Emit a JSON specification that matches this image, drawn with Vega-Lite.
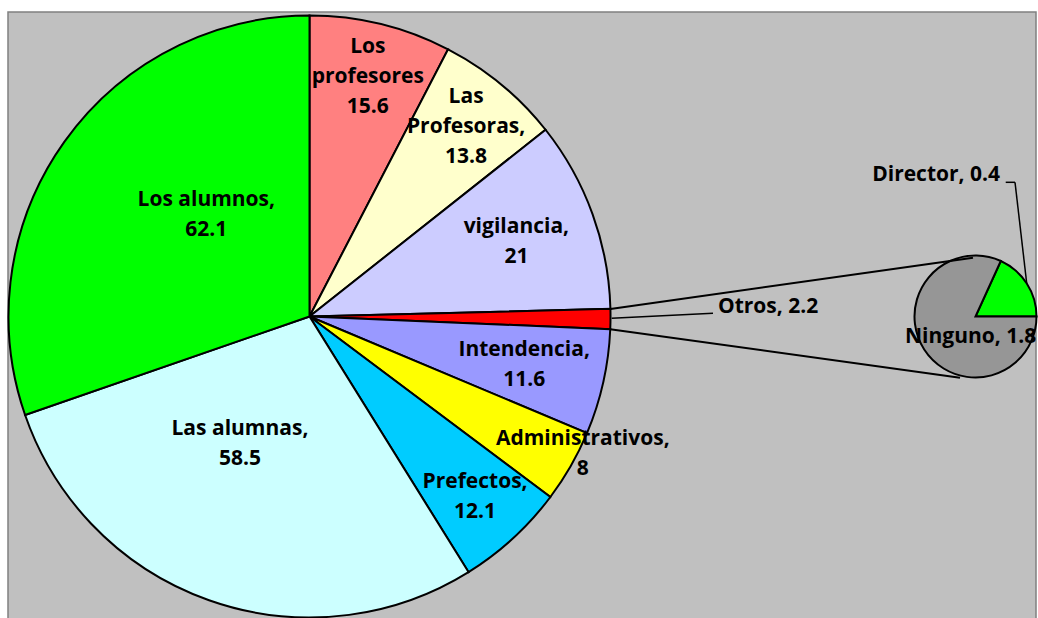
{
  "$schema": "https://vega.github.io/schema/vega-lite/v6.json",
  "width": 1028,
  "height": 610,
  "autosize": {"type": "none"},
  "padding": {"left": 8, "top": 12, "right": 2, "bottom": 0},
  "background": "white",
  "config": {
    "view": {"fill": "#C0C0C0", "stroke": "#808080", "strokeWidth": 1.5},
    "text": {"font": "Open Sans", "fontWeight": "bold", "fontSize": 21, "lineHeight": 30, "lineBreak": "\n", "color": "black"}
  },
  "datasets": {
    "main": [
      {"name": "Los profesores", "label": "Los\nprofesores\n15.6", "value": 15.6},
      {"name": "Las Profesoras", "label": "Las\nProfesoras,\n13.8", "value": 13.8},
      {"name": "vigilancia", "label": "vigilancia,\n21", "value": 21},
      {"name": "Otros", "label": "Otros, 2.2", "value": 2.2},
      {"name": "Intendencia", "label": "Intendencia,\n11.6", "value": 11.6},
      {"name": "Administrativos", "label": "Administrativos,\n8", "value": 8},
      {"name": "Prefectos", "label": "Prefectos,\n12.1", "value": 12.1},
      {"name": "Las alumnas", "label": "Las alumnas,\n58.5", "value": 58.5},
      {"name": "Los alumnos", "label": "Los alumnos,\n62.1", "value": 62.1}
    ],
    "second": [
      {"name": "Director", "label": "Director, 0.4", "value": 0.4},
      {"name": "Ninguno", "label": "Ninguno, 1.8", "value": 1.8}
    ],
    "one": [{}]
  },
  "resolve": {"scale": {"theta": "independent"}},
  "layer": [
    {
      "data": {"name": "main"},
      "transform": [{"window": [{"op": "row_number", "as": "idx"}]}],
      "mark": {"type": "arc", "outerRadius": 301, "stroke": "black", "strokeWidth": 2},
      "encoding": {
        "x": {"datum": 0, "type": "quantitative", "scale": {"domain": [-100.17, 241.36], "nice": false, "zero": false}, "axis": null},
        "y": {"datum": 0, "type": "quantitative", "scale": {"domain": [-101.5, 101.16], "nice": false, "zero": false}, "axis": null},
        "theta": {"field": "value", "type": "quantitative", "stack": true},
        "order": {"field": "idx", "type": "quantitative"},
        "color": {"field": "name", "type": "nominal", "legend": null,
          "scale": {"domain": ["Los profesores", "Las Profesoras", "vigilancia", "Otros", "Intendencia", "Administrativos", "Prefectos", "Las alumnas", "Los alumnos", "Ninguno", "Director"],
                    "range": ["#FF8080", "#FFFFCC", "#CCCCFF", "#FF0000", "#9999FF", "#FFFF00", "#00CCFF", "#CCFFFF", "#00FF00", "#969696", "#00FF00"]}}
      }
    },
    {
      "data": {"name": "second"},
      "transform": [{"window": [{"op": "row_number", "as": "idx"}]}],
      "mark": {"type": "arc", "outerRadius": 61, "stroke": "black", "strokeWidth": 2},
      "encoding": {
        "x": {"datum": 221.26, "type": "quantitative", "scale": {"domain": [-100.17, 241.36], "nice": false, "zero": false}, "axis": null},
        "y": {"datum": 0, "type": "quantitative", "scale": {"domain": [-101.5, 101.16], "nice": false, "zero": false}, "axis": null},
        "theta": {"field": "value", "type": "quantitative", "stack": true, "scale": {"range": [0.4276, 6.7108]}},
        "order": {"field": "idx", "type": "quantitative"},
        "color": {"field": "name", "type": "nominal", "legend": null,
          "scale": {"domain": ["Los profesores", "Las Profesoras", "vigilancia", "Otros", "Intendencia", "Administrativos", "Prefectos", "Las alumnas", "Los alumnos", "Ninguno", "Director"],
                    "range": ["#FF8080", "#FFFFCC", "#CCCCFF", "#FF0000", "#9999FF", "#FFFF00", "#00CCFF", "#CCFFFF", "#00FF00", "#969696", "#00FF00"]}}
      }
    },
    {
      "data": {"name": "one"},
      "mark": {"type": "rule", "stroke": "black", "strokeWidth": 2},
      "encoding": {
        "x": {"datum": 99.97, "type": "quantitative", "scale": {"domain": [-100.17, 241.36], "nice": false, "zero": false}, "axis": null},
        "y": {"datum": 2.52, "type": "quantitative", "scale": {"domain": [-101.5, 101.16], "nice": false, "zero": false}, "axis": null},
        "x2": {"datum": 220.43},
        "y2": {"datum": 19.53}
      }
    },
    {
      "data": {"name": "one"},
      "mark": {"type": "rule", "stroke": "black", "strokeWidth": 2},
      "encoding": {
        "x": {"datum": 99.9, "type": "quantitative", "scale": {"domain": [-100.17, 241.36], "nice": false, "zero": false}, "axis": null},
        "y": {"datum": -4.22, "type": "quantitative", "scale": {"domain": [-101.5, 101.16], "nice": false, "zero": false}, "axis": null},
        "x2": {"datum": 216.11},
        "y2": {"datum": -20.33}
      }
    },
    {
      "data": {"name": "one"},
      "mark": {"type": "rule", "stroke": "black", "strokeWidth": 1.5},
      "encoding": {
        "x": {"datum": 100.4, "type": "quantitative", "scale": {"domain": [-100.17, 241.36], "nice": false, "zero": false}, "axis": null},
        "y": {"datum": -0.6, "type": "quantitative", "scale": {"domain": [-101.5, 101.16], "nice": false, "zero": false}, "axis": null},
        "x2": {"datum": 134.05},
        "y2": {"datum": 1.06}
      }
    },
    {
      "data": {"name": "one"},
      "mark": {"type": "rule", "stroke": "black", "strokeWidth": 1.5},
      "encoding": {
        "x": {"datum": 238.27, "type": "quantitative", "scale": {"domain": [-100.17, 241.36], "nice": false, "zero": false}, "axis": null},
        "y": {"datum": 11.03, "type": "quantitative", "scale": {"domain": [-101.5, 101.16], "nice": false, "zero": false}, "axis": null},
        "x2": {"datum": 234.39},
        "y2": {"datum": 44.58}
      }
    },
    {
      "data": {"name": "one"},
      "mark": {"type": "rule", "stroke": "black", "strokeWidth": 1.5},
      "encoding": {
        "x": {"datum": 234.39, "type": "quantitative", "scale": {"domain": [-100.17, 241.36], "nice": false, "zero": false}, "axis": null},
        "y": {"datum": 44.58, "type": "quantitative", "scale": {"domain": [-101.5, 101.16], "nice": false, "zero": false}, "axis": null},
        "x2": {"datum": 231.3},
        "y2": {"datum": 44.58}
      }
    },
    {
      "data": {"name": "main"},
      "transform": [{"window": [{"op": "row_number", "as": "idx"}]}],
      "mark": {"type": "text", "radius": 246, "align": "center", "baseline": "middle", "dy": -30},
      "encoding": {
        "x": {"datum": 0, "type": "quantitative", "scale": {"domain": [-100.17, 241.36], "nice": false, "zero": false}, "axis": null},
        "y": {"datum": 0, "type": "quantitative", "scale": {"domain": [-101.5, 101.16], "nice": false, "zero": false}, "axis": null},
        "theta": {"field": "value", "type": "quantitative", "stack": true},
        "order": {"field": "idx", "type": "quantitative"},
        "detail": {"field": "name", "type": "nominal"},
        "text": {"condition": {"test": "datum.value >= 13 && datum.value < 20", "field": "label", "type": "nominal"}, "value": ""}
      }
    },
    {
      "data": {"name": "main"},
      "transform": [{"window": [{"op": "row_number", "as": "idx"}]}],
      "mark": {"type": "text", "radius": 245, "align": "center", "baseline": "middle", "dy": -15},
      "encoding": {
        "x": {"datum": 0, "type": "quantitative", "scale": {"domain": [-100.17, 241.36], "nice": false, "zero": false}, "axis": null},
        "y": {"datum": 0, "type": "quantitative", "scale": {"domain": [-101.5, 101.16], "nice": false, "zero": false}, "axis": null},
        "theta": {"field": "value", "type": "quantitative", "stack": true},
        "order": {"field": "idx", "type": "quantitative"},
        "detail": {"field": "name", "type": "nominal"},
        "text": {"condition": {"test": "datum.value >= 12 && datum.value < 13", "field": "label", "type": "nominal"}, "value": ""}
      }
    },
    {
      "data": {"name": "main"},
      "transform": [{"window": [{"op": "row_number", "as": "idx"}]}],
      "mark": {"type": "text", "radius": 220, "align": "center", "baseline": "middle", "dy": -15},
      "encoding": {
        "x": {"datum": 0, "type": "quantitative", "scale": {"domain": [-100.17, 241.36], "nice": false, "zero": false}, "axis": null},
        "y": {"datum": 0, "type": "quantitative", "scale": {"domain": [-101.5, 101.16], "nice": false, "zero": false}, "axis": null},
        "theta": {"field": "value", "type": "quantitative", "stack": true},
        "order": {"field": "idx", "type": "quantitative"},
        "detail": {"field": "name", "type": "nominal"},
        "text": {"condition": {"test": "(datum.value >= 10 && datum.value < 12) || (datum.value >= 20 && datum.value < 40)", "field": "label", "type": "nominal"}, "value": ""}
      }
    },
    {
      "data": {"name": "main"},
      "transform": [{"window": [{"op": "row_number", "as": "idx"}]}],
      "mark": {"type": "text", "radius": 306, "align": "center", "baseline": "middle", "dy": -15},
      "encoding": {
        "x": {"datum": 0, "type": "quantitative", "scale": {"domain": [-100.17, 241.36], "nice": false, "zero": false}, "axis": null},
        "y": {"datum": 0, "type": "quantitative", "scale": {"domain": [-101.5, 101.16], "nice": false, "zero": false}, "axis": null},
        "theta": {"field": "value", "type": "quantitative", "stack": true, "scale": {"range": [-0.054, 6.2292]}},
        "order": {"field": "idx", "type": "quantitative"},
        "detail": {"field": "name", "type": "nominal"},
        "text": {"condition": {"test": "datum.value > 3 && datum.value < 10", "field": "label", "type": "nominal"}, "value": ""}
      }
    },
    {
      "data": {"name": "main"},
      "transform": [{"window": [{"op": "row_number", "as": "idx"}]}],
      "mark": {"type": "text", "radius": 145, "align": "center", "baseline": "middle", "dy": -15},
      "encoding": {
        "x": {"datum": 0, "type": "quantitative", "scale": {"domain": [-100.17, 241.36], "nice": false, "zero": false}, "axis": null},
        "y": {"datum": 0, "type": "quantitative", "scale": {"domain": [-101.5, 101.16], "nice": false, "zero": false}, "axis": null},
        "theta": {"field": "value", "type": "quantitative", "stack": true, "scale": {"range": [0.16, 6.4432]}},
        "order": {"field": "idx", "type": "quantitative"},
        "detail": {"field": "name", "type": "nominal"},
        "text": {"condition": {"test": "datum.value >= 40", "field": "label", "type": "nominal"}, "value": ""}
      }
    },
    {
      "data": {"name": "main"},
      "transform": [{"filter": "datum.name === 'Otros'"}],
      "mark": {"type": "text", "align": "left", "baseline": "middle"},
      "encoding": {
        "x": {"datum": 135.71, "type": "quantitative", "scale": {"domain": [-100.17, 241.36], "nice": false, "zero": false}, "axis": null},
        "y": {"datum": 3.06, "type": "quantitative", "scale": {"domain": [-101.5, 101.16], "nice": false, "zero": false}, "axis": null},
        "text": {"field": "label", "type": "nominal"}
      }
    },
    {
      "data": {"name": "second"},
      "transform": [{"filter": "datum.name === 'Director'"}],
      "mark": {"type": "text", "align": "right", "baseline": "middle"},
      "encoding": {
        "x": {"datum": 229.4, "type": "quantitative", "scale": {"domain": [-100.17, 241.36], "nice": false, "zero": false}, "axis": null},
        "y": {"datum": 47.01, "type": "quantitative", "scale": {"domain": [-101.5, 101.16], "nice": false, "zero": false}, "axis": null},
        "text": {"field": "label", "type": "nominal"}
      }
    },
    {
      "data": {"name": "second"},
      "transform": [{"filter": "datum.name === 'Ninguno'"}],
      "mark": {"type": "text", "align": "left", "baseline": "middle", "clip": true},
      "encoding": {
        "x": {"datum": 197.84, "type": "quantitative", "scale": {"domain": [-100.17, 241.36], "nice": false, "zero": false}, "axis": null},
        "y": {"datum": -6.71, "type": "quantitative", "scale": {"domain": [-101.5, 101.16], "nice": false, "zero": false}, "axis": null},
        "text": {"field": "label", "type": "nominal"}
      }
    }
  ]
}
